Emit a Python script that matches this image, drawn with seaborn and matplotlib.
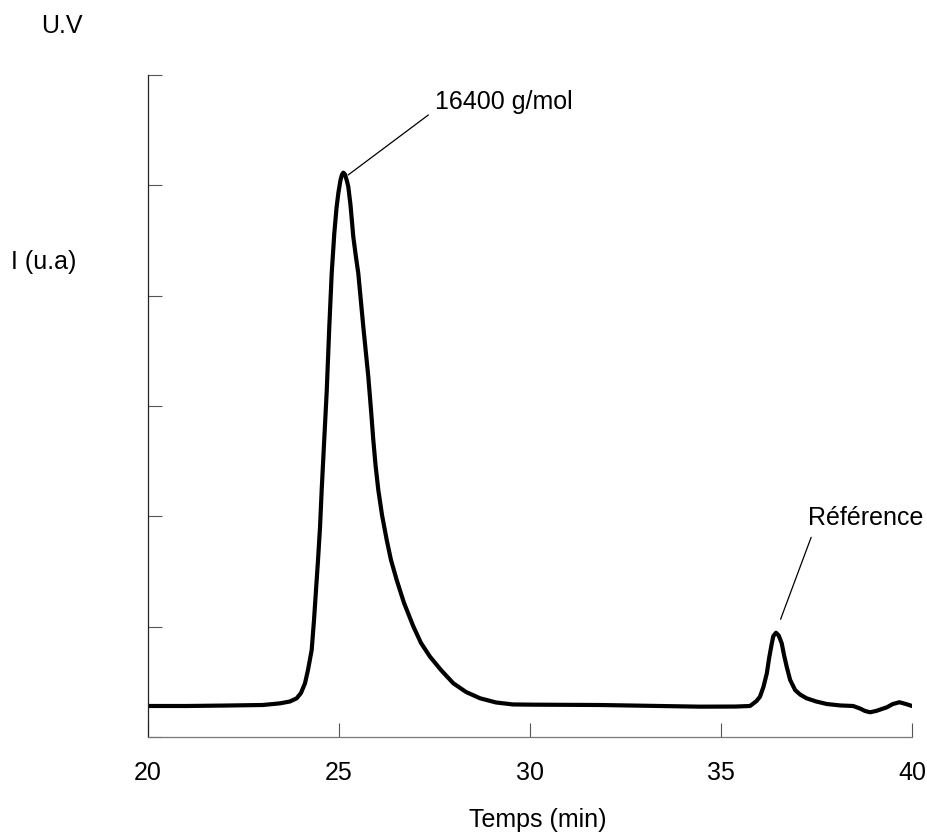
import matplotlib
matplotlib.use("Agg")
import matplotlib.pyplot as plt
import seaborn as sns
import pandas as pd

# Chromatogram trace (time in min, intensity in arbitrary units)
temps = [20.0, 21.0, 22.0, 23.0, 23.455, 23.717, 23.893, 24.005, 24.110, 24.188, 24.285,
         24.346, 24.398, 24.450, 24.503, 24.547, 24.607, 24.678, 24.746, 24.809, 24.877,
         24.935, 24.982, 25.039, 25.079, 25.113, 25.157, 25.204, 25.243, 25.301, 25.374,
         25.440, 25.505, 25.636, 25.767, 25.838, 25.898, 25.956, 26.029, 26.126, 26.249,
         26.361, 26.510, 26.702, 26.945, 27.147, 27.382, 27.670, 27.992, 28.325, 28.691,
         29.110, 29.555, 30.079, 31.83, 34.45, 35.37, 35.76, 35.93, 36.02, 36.11, 36.20,
         36.26, 36.33, 36.37, 36.44, 36.51, 36.59, 36.65, 36.72, 36.81, 36.94, 37.07,
         37.24, 37.49, 37.77, 38.12, 38.46, 38.64, 38.77, 38.90, 39.06, 39.34, 39.50,
         39.67, 39.84, 40.0]
intensite = [0.281, 0.281, 0.285, 0.29, 0.305, 0.322, 0.351, 0.399, 0.487, 0.607, 0.789,
             1.061, 1.332, 1.60, 1.90, 2.24, 2.65, 3.13, 3.719, 4.203, 4.565,
             4.795, 4.928, 5.048, 5.098, 5.115, 5.098, 5.044, 4.988, 4.822, 4.535,
             4.360, 4.203, 3.719, 3.266, 2.964, 2.692, 2.465, 2.239, 2.012, 1.786,
             1.604, 1.423, 1.215, 1.003, 0.852, 0.728, 0.607, 0.487, 0.408, 0.351,
             0.313, 0.295, 0.293, 0.29, 0.275, 0.276, 0.281, 0.326, 0.365, 0.453, 0.577,
             0.716, 0.849, 0.915, 0.945, 0.920, 0.849, 0.743, 0.637, 0.517, 0.426, 0.385,
             0.351, 0.322, 0.299, 0.286, 0.281, 0.258, 0.236, 0.224, 0.236, 0.269, 0.299,
             0.315, 0.299, 0.281]

x_ticks = [20, 25, 30, 35, 40]
x_tick_labels = ["20", "25", "30", "35", "40"]
y_ticks = [0, 1, 2, 3, 4, 5, 6]

label_pic = "16400 g/mol"
label_ref = "Référence"

sns.set_style("ticks")
plt.rcParams["font.family"] = ["Liberation Sans", "DejaVu Sans"]
plt.rcParams["text.color"] = "black"

W, H = 927, 832
fig = plt.figure(figsize=(W / 100, H / 100), dpi=100)
ax = fig.add_axes([148 / W, 1 - 737 / H, (912 - 148) / W, (737 - 75) / H])

df = pd.DataFrame({"Temps": temps, "I": intensite})
sns.lineplot(data=df, x="Temps", y="I", ax=ax, color="black", linewidth=3,
             estimator=None, sort=False)
ax.lines[0].set_solid_joinstyle("round")
ax.lines[0].set_solid_capstyle("round")

ax.set_xlim(20, 40)
ax.set_ylim(0, 6)
ax.set_xticks(x_ticks)
ax.set_xticklabels(x_tick_labels)
ax.set_yticks(y_ticks)
ax.set_yticklabels([])
ax.set_xlabel("")
ax.set_ylabel("")
ax.tick_params(axis="both", direction="in", length=10, width=0.8, color="#555555",
               labelsize=18, labelcolor="black")
ax.tick_params(axis="x", pad=17)
sns.despine(ax=ax)
ax.spines["left"].set_color("#222222")
ax.spines["bottom"].set_color("#777777")
ax.spines["left"].set_linewidth(0.9)
ax.spines["bottom"].set_linewidth(0.9)

# annotations
ax.annotate("", xy=(25.24, 5.094), xytext=(27.34, 5.638),
            arrowprops=dict(arrowstyle="-", lw=0.9, color="black", shrinkA=0, shrinkB=0))
ax.text(27.51, 5.689, label_pic, fontsize=18, ha="left", va="baseline", color="black")
ax.annotate("", xy=(36.56, 1.067), xytext=(37.36, 1.81),
            arrowprops=dict(arrowstyle="-", lw=0.9, color="black", shrinkA=0, shrinkB=0))
ax.text(37.29, 1.921, label_ref, fontsize=18, ha="left", va="baseline", color="black")

fig.text(41 / W, 1 - 33.3 / H, "U.V", fontsize=18, ha="left", va="baseline", color="black")
fig.text(11 / W, 1 - 269.3 / H, "I (u.a)", fontsize=18, ha="left", va="baseline", color="black")
fig.text(537.5 / W, 1 - 827 / H, "Temps (min)", fontsize=18, ha="center", va="baseline",
         color="black")

fig.savefig("out.png", dpi=100)
